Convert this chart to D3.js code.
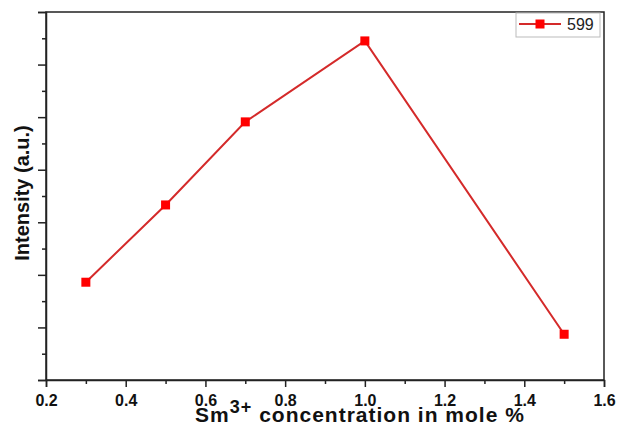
<!DOCTYPE html>
<html>
<head>
<meta charset="utf-8">
<script src="https://cdn.jsdelivr.net/npm/d3@7"></script>
<style>
  html, body { margin: 0; padding: 0; background: #fff; }
  svg { display: block; }
  text { font-family: "Liberation Sans", Arial, sans-serif; }
</style>
</head>
<body>
<svg id="chart" width="623" height="427"></svg>
<script>
// Data
const concentrations = [0.3, 0.5, 0.7, 1.0, 1.5];
const intensities = [1.86, 3.33, 4.91, 6.45, 0.87];
const seriesName = "599";
const xTickValues = [0.2, 0.4, 0.6, 0.8, 1.0, 1.2, 1.4, 1.6];
const xMinorTicks = [0.3, 0.5, 0.7, 0.9, 1.1, 1.3, 1.5];
const yMajorTicks = [0, 1, 2, 3, 4, 5, 6, 7];
const yMinorTicks = [0.5, 1.5, 2.5, 3.5, 4.5, 5.5, 6.5];

const svg = d3.select("#chart");
const margin = { left: 46, right: 19, top: 12, bottom: 47 };
const W = 623, H = 427;
const x = d3.scaleLinear().domain([0.2, 1.6]).range([margin.left, W - margin.right]);
const y = d3.scaleLinear().domain([0, 7]).range([H - margin.bottom, margin.top]);

// frame (top, right)
svg.append("rect")
  .attr("x", x(0.2)).attr("y", y(7))
  .attr("width", x(1.6) - x(0.2)).attr("height", y(0) - y(7))
  .attr("fill", "none").attr("stroke", "#222").attr("stroke-width", 1.5);

// x axis
const xAxis = svg.append("g").attr("transform", `translate(0,${y(0)})`)
  .call(d3.axisBottom(x).tickValues(xTickValues).tickFormat(d3.format(".1f")).tickSize(7).tickPadding(8));
xAxis.select(".domain").attr("stroke", "#222").attr("stroke-width", 1.5);
xAxis.selectAll(".tick line").attr("stroke", "#222").attr("stroke-width", 1.5);
xAxis.selectAll("text").attr("font-size", 16).attr("font-weight", "bold")
  .attr("fill", "#111").attr("font-family", "Liberation Sans, Arial, sans-serif");
const xMinor = svg.append("g").attr("transform", `translate(0,${y(0)})`)
  .call(d3.axisBottom(x).tickValues(xMinorTicks).tickSize(4).tickFormat(""));
xMinor.select(".domain").remove();
xMinor.selectAll(".tick line").attr("stroke", "#222").attr("stroke-width", 1.5);

// y axis (no labels)
const yAxis = svg.append("g").attr("transform", `translate(${x(0.2)},0)`)
  .call(d3.axisLeft(y).tickValues(yMajorTicks).tickSize(8).tickFormat(""));
yAxis.select(".domain").attr("stroke", "#222").attr("stroke-width", 1.5);
yAxis.selectAll(".tick line").attr("stroke", "#222").attr("stroke-width", 1.5);
const yMinor = svg.append("g").attr("transform", `translate(${x(0.2)},0)`)
  .call(d3.axisLeft(y).tickValues(yMinorTicks).tickSize(4).tickFormat(""));
yMinor.select(".domain").remove();
yMinor.selectAll(".tick line").attr("stroke", "#222").attr("stroke-width", 1.5);

// line
const data = concentrations.map((c, i) => ({ c, v: intensities[i] }));
svg.append("path").datum(data)
  .attr("fill", "none").attr("stroke", "#d42a2a").attr("stroke-width", 2)
  .attr("d", d3.line().x(d => x(d.c)).y(d => y(d.v)));
const ms = 9;
svg.selectAll("rect.pt").data(data).enter().append("rect")
  .attr("class", "pt")
  .attr("x", d => x(d.c) - ms / 2).attr("y", d => y(d.v) - ms / 2)
  .attr("width", ms).attr("height", ms).attr("fill", "#ff0000");

// axis titles
svg.append("text")
  .attr("transform", `translate(29,193) rotate(-90)`)
  .attr("text-anchor", "middle").attr("font-size", 20).attr("font-weight", "bold").attr("fill", "#111")
  .text("Intensity (a.u.)");
const xt = svg.append("text")
  .attr("x", 360).attr("y", 422)
  .attr("text-anchor", "middle").attr("font-size", 21).attr("font-weight", "bold")
  .attr("letter-spacing", 1).attr("fill", "#111");
xt.append("tspan").text("Sm");
xt.append("tspan").attr("dy", -9).attr("font-size", 18).text("3+");
xt.append("tspan").attr("dy", 9).text(" concentration in mole %");

// legend
const lg = svg.append("g");
lg.append("rect").attr("x", 516).attr("y", y(7) + 1).attr("width", 84).attr("height", 24)
  .attr("fill", "#fff").attr("stroke", "#bbb").attr("stroke-width", 1);
lg.append("line").attr("x1", 519).attr("x2", 561).attr("y1", 24).attr("y2", 24)
  .attr("stroke", "#d42a2a").attr("stroke-width", 2);
lg.append("rect").attr("x", 540 - ms / 2).attr("y", 24 - ms / 2).attr("width", ms).attr("height", ms).attr("fill", "#ff0000");
lg.append("text").attr("x", 567).attr("y", 30).attr("font-size", 16).attr("fill", "#222").text(seriesName);
</script>
</body>
</html>
